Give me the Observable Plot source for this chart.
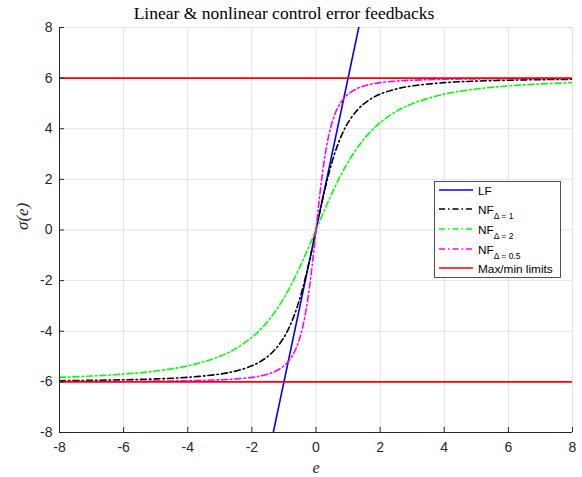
<!DOCTYPE html>
<html><head><meta charset="utf-8">
<script src="https://cdn.jsdelivr.net/npm/d3@7"></script>
<script src="https://cdn.jsdelivr.net/npm/@observablehq/plot@0.6"></script>
<style>body{margin:0;background:#fff}</style>
</head><body><div id="chart"></div>
<script>
// ---- data ----
const eValues = [-8,-7,-6,-5,-4,-3,-2.5,-2,-1.75,-1.5,-1.25,-1,-0.9,-0.8,-0.7,-0.6,-0.5,-0.4,-0.3,-0.2,-0.1,0,
                 0.1,0.2,0.3,0.4,0.5,0.6,0.7,0.8,0.9,1,1.25,1.5,1.75,2,2.5,3,4,5,6,7,8];
const nfDelta1 = [-5.954,-5.940,-5.918,-5.883,-5.821,-5.692,-5.571,-5.367,-5.209,-4.992,-4.685,-4.243,-4.014,-3.748,-3.441,-3.087,-2.683,-2.228,-1.724,-1.177,-0.597,0,
                  0.597,1.177,1.724,2.228,2.683,3.087,3.441,3.748,4.014,4.243,4.685,4.992,5.209,5.367,5.571,5.692,5.821,5.883,5.918,5.940,5.954];
const nfDelta2 = [-5.821,-5.769,-5.692,-5.571,-5.367,-4.992,-4.685,-4.243,-3.951,-3.600,-3.180,-2.683,-2.462,-2.228,-1.982,-1.724,-1.455,-1.177,-0.890,-0.597,-0.300,0,
                  0.300,0.597,0.890,1.177,1.455,1.724,1.982,2.228,2.462,2.683,3.180,3.600,3.951,4.243,4.685,4.992,5.367,5.571,5.692,5.769,5.821];
const nfDelta05 = [-5.988,-5.985,-5.979,-5.970,-5.954,-5.918,-5.883,-5.821,-5.769,-5.692,-5.571,-5.367,-5.245,-5.088,-4.882,-4.610,-4.243,-3.748,-3.087,-2.228,-1.177,0,
                   1.177,2.228,3.087,3.748,4.243,4.610,4.882,5.088,5.245,5.367,5.571,5.692,5.769,5.821,5.883,5.918,5.954,5.970,5.979,5.985,5.988];
const lfE = [-2, 2];
const lfSigma = [-12, 12];
const limits = [6, -6];
const xTicks = [-8,-6,-4,-2,0,2,4,6,8];
const yTicks = [-8,-6,-4,-2,0,2,4,6,8];
const titleText = "Linear & nonlinear control error feedbacks";
const xLabel = "e";
const yLabel = "σ(e)";
const legendItems = [
  {name:"LF", sub:null, color:"#0000ff", dash:null},
  {name:"NF", sub:"Δ = 1", color:"#000000", dash:"6,3,1.5,3"},
  {name:"NF", sub:"Δ = 2", color:"#00ff00", dash:"6,3,1.5,3"},
  {name:"NF", sub:"Δ = 0.5", color:"#ff00ff", dash:"6,3,1.5,3"},
  {name:"Max/min limits", sub:null, color:"#ff0000", dash:null}
];

const rows = (ys) => eValues.map((e, i) => ({e, s: ys[i]}));
const lfRows = lfE.map((e, i) => ({e, s: lfSigma[i]}));

const axisColor = "#262626";
const gridColor = "#e3e3e3";
const dashDot = "6,3,1.5,3";
const fmt = d => String(d);

const chart = Plot.plot({
  width: 582, height: 477,
  marginLeft: 59, marginRight: 10, marginTop: 27, marginBottom: 45,
  x: {domain: [-8, 8]},
  y: {domain: [-8, 8]},
  style: {fontFamily: "'Liberation Sans', Arial, sans-serif", fontSize: "14px", color: axisColor, background: "#fff", overflow: "visible"},
  marks: [
    Plot.gridX(xTicks, {stroke: gridColor, strokeOpacity: 1}),
    Plot.gridY(yTicks, {stroke: gridColor, strokeOpacity: 1}),
    Plot.line(lfRows, {x: "e", y: "s", stroke: "#0000ff", strokeWidth: 1.6, clip: true}),
    Plot.line(rows(nfDelta1), {x: "e", y: "s", stroke: "#000000", strokeWidth: 1.6, strokeDasharray: dashDot, curve: "catmull-rom", clip: true}),
    Plot.line(rows(nfDelta2), {x: "e", y: "s", stroke: "#00ff00", strokeWidth: 1.6, strokeDasharray: dashDot, curve: "catmull-rom", clip: true}),
    Plot.line(rows(nfDelta05), {x: "e", y: "s", stroke: "#ff00ff", strokeWidth: 1.6, strokeDasharray: dashDot, curve: "catmull-rom", clip: true}),
    Plot.ruleY(limits, {stroke: "#ff0000", strokeWidth: 1.6}),
    Plot.ruleX([-8], {stroke: axisColor, strokeWidth: 1}),
    Plot.ruleY([-8], {stroke: axisColor, strokeWidth: 1}),
    Plot.axisX(xTicks, {tickSize: 0, tickPadding: 10, label: null, fill: axisColor, fontSize: 14, tickFormat: fmt}),
    Plot.axisY(yTicks, {tickSize: 0, tickPadding: 7, label: null, fill: axisColor, fontSize: 14, tickFormat: fmt}),
    Plot.axisX(xTicks, {tickSize: -5, text: null, label: null, stroke: axisColor}),
    Plot.axisY(yTicks, {tickSize: -5, text: null, label: null, stroke: axisColor}),
    Plot.text([titleText], {text: d => d, frameAnchor: "top", lineAnchor: "middle", dy: -14, dx: -32, fontFamily: "'Liberation Serif', serif", fontSize: 17.5, fill: "#000"}),
    Plot.text([xLabel], {text: d => d, frameAnchor: "bottom", lineAnchor: "middle", dy: 35, dx: 0, fontFamily: "'Liberation Serif', serif", fontStyle: "italic", fontSize: 16, fill: axisColor}),
    Plot.text([yLabel], {text: d => d, frameAnchor: "left", lineAnchor: "middle", dx: -37, rotate: -90, fontFamily: "'Liberation Serif', serif", fontStyle: "italic", fontSize: 17, fill: axisColor})
  ]
});
document.getElementById("chart").appendChild(chart);

// ---- legend ----
const svg = d3.select(chart);
const lg = svg.append("g").attr("font-family", "'Liberation Sans', Arial, sans-serif").attr("text-anchor", "start");
lg.append("rect").attr("x", 434.5).attr("y", 181.5).attr("width", 126).attr("height", 96)
  .attr("fill", "#fff").attr("stroke", axisColor).attr("stroke-width", 0.8);
const rowY = [190, 209, 229, 249, 268];
legendItems.forEach((it, i) => {
  const y = rowY[i];
  lg.append("line").attr("x1", 439).attr("x2", 473).attr("y1", y).attr("y2", y)
    .attr("stroke", it.color).attr("stroke-width", 1.6)
    .attr("stroke-dasharray", it.dash);
  const t = lg.append("text").attr("x", 478).attr("y", y + 4.5).attr("font-size", 11.8).attr("fill", "#000").attr("text-anchor", "start");
  t.append("tspan").text(it.name);
  if (it.sub) t.append("tspan").attr("font-size", 8.5).attr("dy", 5).text(it.sub);
});
</script>
</body></html>
